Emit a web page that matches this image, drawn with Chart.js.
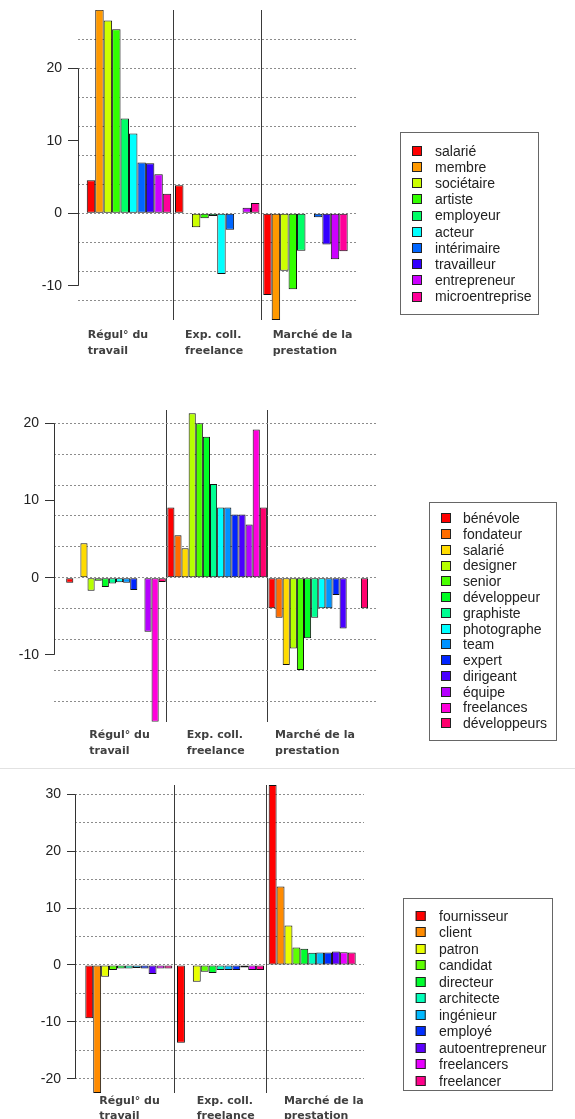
<!DOCTYPE html>
<html lang="fr">
<head>
<meta charset="utf-8">
<title>Spécificités lexicales par cadre</title>
<script src="https://cdn.jsdelivr.net/npm/chart.js@4.4.1/dist/chart.umd.min.js"></script>
<style>
  body { margin: 0; background: #fff; }
  canvas { display: block; }
  #p3 { border-top: 1px solid #e2e2e2; }
</style>
</head>
<body>
<canvas id="c1" width="575" height="370"></canvas>
<canvas id="c2" width="575" height="398"></canvas>
<div id="p3"><canvas id="c3" width="575" height="350"></canvas></div>
<script>
// groupes (catégories de l'axe x)
const groupes = [['Régul° du', 'travail'], ['Exp. coll.', 'freelance'], ['Marché de la', 'prestation']];

// panneau 1
const mots1 = ['salarié', 'membre', 'sociétaire', 'artiste', 'employeur', 'acteur', 'intérimaire', 'travailleur', 'entrepreneur', 'microentreprise'];
const regul1 = [4.55, 28.1, 26.6, 25.4, 13.1, 11.0, 7.0, 6.9, 5.4, 2.7];
const exp1 = [3.86, -0.1, -1.93, -0.69, -0.37, -8.37, -2.25, 0, 0.78, 1.43];
const marche1 = [-11.26, -14.71, -7.91, -10.48, -5.15, 0, -0.55, -4.28, -6.34, -5.24];
const graduations1 = [-10, 0, 10, 20];

// panneau 2
const mots2 = ['bénévole', 'fondateur', 'salarié', 'designer', 'senior', 'développeur', 'graphiste', 'photographe', 'team', 'expert', 'dirigeant', 'équipe', 'freelances', 'développeurs'];
const regul2 = [-0.65, -0.1, 4.45, -1.68, -0.4, -1.2, -0.75, -0.6, -0.65, -1.6, 0, -7.0, -18.66, -0.55];
const exp2 = [9.11, 5.49, 3.8, 21.3, 20.0, 18.27, 12.14, 9.11, 9.11, 8.2, 8.2, 6.9, 19.2, 9.11];
const marche2 = [-3.97, -5.18, -11.3, -9.16, -11.97, -7.86, -5.18, -3.97, -3.97, -2.25, -6.57, -0.05, -0.1, -3.97];
const graduations2 = [-10, 0, 10, 20];

// panneau 3
const mots3 = ['fournisseur', 'client', 'patron', 'candidat', 'directeur', 'architecte', 'ingénieur', 'employé', 'autoentrepreneur', 'freelancers', 'freelancer'];
const regul3 = [-9.38, -22.5, -2.05, -0.88, -0.6, -0.6, -0.55, -0.6, -1.58, -0.6, -0.6];
const exp3 = [-13.67, 0, -2.95, -1.2, -1.4, -0.9, -0.9, -0.9, -0.45, -0.9, -0.9];
const marche3 = [31.63, 13.78, 6.92, 3.05, 2.87, 2.17, 2.2, 2.2, 2.35, 2.25, 2.2];
const graduations3 = [-20, -10, 0, 10, 20, 30];

// couleurs rainbow(n) de R
const couleurs1 = ['#FF0000', '#FF9900', '#CCFF00', '#33FF00', '#00FF66', '#00FFFF', '#0066FF', '#3300FF', '#CC00FF', '#FF0099'];
const couleurs2 = ['#FF0000', '#FF6D00', '#FFDB00', '#B6FF00', '#49FF00', '#00FF24', '#00FF92', '#00FFFF', '#0092FF', '#0024FF', '#4900FF', '#B600FF', '#FF00DB', '#FF006D'];
const couleurs3 = ['#FF0000', '#FF8B00', '#E8FF00', '#5DFF00', '#00FF2E', '#00FFB9', '#00B9FF', '#002EFF', '#5D00FF', '#E800FF', '#FF008B'];

// ligne d'axe façon R, limitée aux graduations
const axeR = {
  id: 'axeR',
  afterDraw(chart) {
    const y = chart.scales.y, ctx = chart.ctx;
    const x = Math.round(chart.chartArea.left) + 0.5;
    const t = y.ticks;
    ctx.save();
    ctx.strokeStyle = '#333';
    ctx.lineWidth = 1;
    ctx.beginPath();
    ctx.moveTo(x, y.getPixelForValue(t[0].value));
    ctx.lineTo(x, y.getPixelForValue(t[t.length - 1].value));
    ctx.stroke();
    ctx.restore();
  }
};

// légende encadrée
const cadre = {
  id: 'cadre',
  afterDraw(chart, args, o) {
    const ctx = chart.ctx;
    ctx.save();
    ctx.strokeStyle = '#666';
    ctx.lineWidth = 1;
    ctx.strokeRect(Math.round(o.x) + 0.5, Math.round(o.y) + 0.5, o.w, o.h);
    ctx.font = '14px "Liberation Sans"';
    ctx.textBaseline = 'middle';
    chart.data.datasets.forEach((ds, i) => {
      const cy = o.y + o.premier + i * o.pas;
      ctx.fillStyle = ds.backgroundColor;
      ctx.fillRect(o.x + o.carre, Math.round(cy - 5), 10, 10);
      ctx.strokeStyle = '#222';
      ctx.strokeRect(o.x + o.carre + 0.5, Math.round(cy - 5) + 0.5, 9, 9);
      ctx.fillStyle = '#222';
      ctx.fillText(ds.label, o.x + o.texte, cy + 1);
    });
    ctx.restore();
  }
};

function pas(a, b, s) {
  const t = [];
  for (let v = a; v <= b + 1e-9; v += s) t.push({value: v});
  return t;
}

function dessine(id, p) {
  const datasets = p.mots.map((mot, i) => ({
    label: mot,
    data: [p.regul[i], p.exp[i], p.marche[i]].map((v, g) => ({x: g, y: v})),
    backgroundColor: p.couleurs[i],
    borderColor: '#111',
    borderWidth: 1,
    borderSkipped: false,
    categoryPercentage: p.groupe,
    barPercentage: 1,
    xAxisID: 'x',
    yAxisID: 'y'
  }));
  const H = document.getElementById(id).height;
  new Chart(document.getElementById(id), {
    type: 'bar',
    data: { datasets },
    plugins: [axeR, cadre],
    options: {
      responsive: false,
      animation: false,
      layout: { padding: { top: p.haut, right: 575 - p.droite, left: 0, bottom: 0 } },
      plugins: {
        legend: { display: false },
        tooltip: { enabled: false },
        cadre: p.legende
      },
      scales: {
        x: {
          type: 'linear', min: p.xmin, max: p.xmax, offset: false,
          grid: { offset: false, color: '#3a3a3a', drawTicks: false },
          border: { display: false },
          ticks: { display: false },
          afterBuildTicks: s => { s.ticks = [{value: 0.5}, {value: 1.5}]; },
          afterFit: s => { s.height = 0; s.paddingLeft = 0; s.paddingRight = 0; }
        },
        xl: {
          type: 'linear', position: 'bottom', min: p.xmin, max: p.xmax, offset: false,
          grid: { display: false, offset: false },
          border: { display: false },
          ticks: {
            align: 'start', padding: p.etiq.pad, color: '#404040',
            autoSkip: false, minRotation: 0, maxRotation: 0,
            font: { family: 'DejaVu Sans', weight: 'bold', size: 11, lineHeight: p.etiq.interligne },
            callback: (v, i) => groupes[i]
          },
          afterBuildTicks: s => { s.ticks = p.etiq.pos.map(v => ({value: v})); },
          afterFit: s => { s.height = H - p.bas; s.paddingLeft = 0; s.paddingRight = 0; }
        },
        y: {
          type: 'linear', position: 'left', min: p.ymin, max: p.ymax,
          grid: { drawOnChartArea: false, color: '#333', tickLength: p.axe.tick },
          border: { display: false },
          ticks: { padding: p.axe.pad, color: '#222', font: { family: 'Liberation Sans', size: 14 } },
          afterBuildTicks: s => { s.ticks = p.graduations.map(v => ({value: v})); },
          afterFit: s => { s.width = p.gauche; s.paddingTop = 0; s.paddingBottom = 0; }
        },
        yg: {
          type: 'linear', position: 'right', min: p.ymin, max: p.ymax,
          grid: { color: '#8c8c8c', drawTicks: false, borderDash: [2, 2] },
          border: { display: false, dash: [2, 2] },
          ticks: { display: false },
          afterBuildTicks: s => { s.ticks = pas(p.grille[0], p.grille[1], p.grille[2]); },
          afterFit: s => { s.width = 0; s.paddingTop = 0; s.paddingBottom = 0; }
        }
      }
    }
  });
}

dessine('c1', {
  mots: mots1, regul: regul1, exp: exp1, marche: marche1, couleurs: couleurs1, graduations: graduations1,
  ymin: -14.71, ymax: 28.05, grille: [-12, 24, 4],
  xmin: -0.578, xmax: 2.584, groupe: 0.957,
  gauche: 78, droite: 357, haut: 10, bas: 320,
  axe: { tick: 10, pad: 6 },
  etiq: { pos: [-0.468, 0.635, 1.628], pad: -1, interligne: 16 / 11 },
  legende: { x: 400, y: 132, w: 138, h: 182, premier: 18.7, pas: 16.2, carre: 12, texte: 35 }
});

dessine('c2', {
  mots: mots2, regul: regul2, exp: exp2, marche: marche2, couleurs: couleurs2, graduations: graduations2,
  ymin: -18.66, ymax: 21.73, grille: [-16, 20, 4],
  xmin: -0.613, xmax: 2.591, groupe: 0.985,
  gauche: 54, droite: 378, haut: 40, bas: 351.7,
  axe: { tick: 9, pad: 6 },
  etiq: { pos: [-0.264, 0.699, 1.573], pad: -2, interligne: 15.7 / 11 },
  legende: { x: 429, y: 132.3, w: 127, h: 238, premier: 16, pas: 15.77, carre: 12, texte: 34 }
});

dessine('c3', {
  mots: mots3, regul: regul3, exp: exp3, marche: marche3, couleurs: couleurs3, graduations: graduations3,
  ymin: -22.5, ymax: 31.63, grille: [-20, 30, 5],
  xmin: -0.587, xmax: 2.565, groupe: 0.949,
  gauche: 75, droite: 364, haut: 16, bas: 324,
  axe: { tick: 8, pad: 6 },
  etiq: { pos: [-0.322, 0.740, 1.692], pad: -7.5, interligne: 15 / 11 },
  legende: { x: 403.3, y: 129.3, w: 149, h: 192, premier: 17.7, pas: 16.47, carre: 12.4, texte: 35.7 }
});
</script>
</body>
</html>
